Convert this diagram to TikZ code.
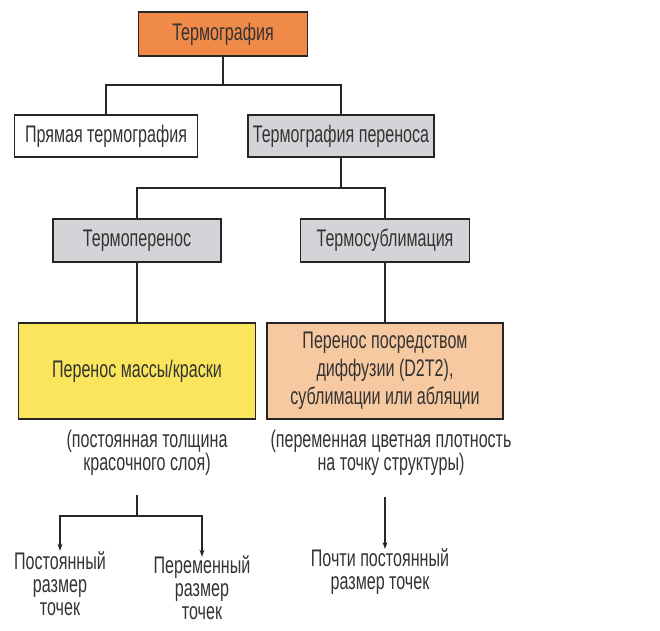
\documentclass[tikz,border=0pt]{standalone}
\usepackage{fontspec}
\setmainfont[FakeStretch=0.67]{Liberation Sans}
\usetikzlibrary{arrows.meta}

\definecolor{rootorange}{RGB}{240,138,72}
\definecolor{boxgray}{RGB}{212,212,216}
\definecolor{massyellow}{RGB}{250,229,92}
\definecolor{diffpeach}{RGB}{247,201,160}

\tikzset{
    box/.style={draw=black!85, line width=1.1pt, inner sep=0pt, text=black!80,
        align=center, font=\fontsize{24}{28}\selectfont},
    note/.style={inner sep=0pt, text=black!80, align=center,
        font=\fontsize{24}{23}\selectfont},
    link/.style={draw=black!85, line width=1.1pt},
    pointer/.style={link, -{Stealth[length=7pt,width=5pt]}}
}

\begin{document}
\begin{tikzpicture}[x=1pt, y=-1pt]
    \useasboundingbox (0, 0) rectangle (660, 630);

    % boxes
    \node[box, fill=rootorange, minimum width=169pt, minimum height=44pt] (root) at (223, 34) {Термография};
    \node[box, fill=white, minimum width=183pt, minimum height=42pt] (direct) at (106, 136) {Прямая термография};
    \node[box, fill=boxgray, minimum width=186pt, minimum height=42pt] (transfer) at (341, 136) {Термография переноса};
    \node[box, fill=boxgray, minimum width=168pt, minimum height=43pt] (thermo) at (137, 240.5) {Термоперенос};
    \node[box, fill=boxgray, minimum width=169pt, minimum height=43pt] (sublim) at (385, 240.5) {Термосублимация};
    \node[box, fill=massyellow, minimum width=237pt, minimum height=96pt] (mass) at (137, 371) {Перенос массы/краски};
    \node[box, fill=diffpeach, minimum width=236pt, minimum height=96pt] (diff) at (385, 371) {Перенос посредством\\диффузии (D2T2),\\сублимации или абляции};

    % notes
    \node[note] (massnote) at (147, 453) {(постоянная толщина\\красочного слоя)};
    \node[note] (diffnote) at (391, 453) {(переменная цветная плотность\\на точку структуры)};
    \node[note] (constsize) at (60, 584) {Постоянный\\размер\\точек};
    \node[note] (varsize) at (202, 588) {Переменный\\размер\\точек};
    \node[note] (nearsize) at (380, 572) {Почти постоянный\\размер точек};

    % connectors
    \coordinate (split1) at (223, 85);
    \coordinate (split2) at (341, 188);
    \draw[link] (root) -- (split1);
    \draw[link] (direct.north) |- (split1) -| (transfer.north);
    \draw[link] (transfer) -- (split2);
    \draw[link] (thermo.north) |- (split2) -| (sublim.north);
    \draw[link] (thermo) -- (mass);
    \draw[link] (sublim) -- (diff);

    \coordinate (forkL) at (137, 495);
    \coordinate (joinL) at (137, 516);
    \coordinate (forkR) at (385, 497);
    \draw[link] (forkL) -- (joinL);
    \draw[pointer] (joinL) -| ([yshift=1pt]constsize.north);
    \draw[pointer] (joinL) -| ([yshift=-1pt]varsize.north);
    \draw[pointer] (forkR) -- (forkR |- nearsize.north);
\end{tikzpicture}
\end{document}
